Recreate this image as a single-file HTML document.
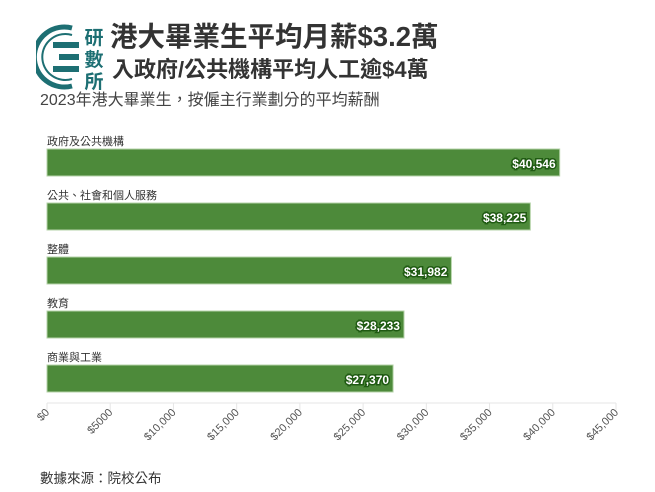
<!DOCTYPE html>
<html><head><meta charset="utf-8"><style>
body{margin:0;width:655px;height:492px;background:#fff;font-family:"Liberation Sans","Noto Sans CJK TC",sans-serif;overflow:hidden;position:relative}
.t{position:absolute;white-space:nowrap;color:#333}
</style></head><body>
<svg style="position:absolute;left:36px;top:22px" width="75" height="70" viewBox="0 0 75 70">
<path d="M36 6 A30 30 0 1 0 36 64" fill="none" stroke="#1d6f73" stroke-width="5"/>
<path d="M36 13 A23 23 0 1 0 36 57" fill="none" stroke="#1d6f73" stroke-width="2"/>
<rect x="17" y="20" width="26" height="6" fill="#1d6f73"/>
<rect x="23" y="32" width="20" height="6" fill="#1d6f73"/>
<rect x="17" y="44" width="26" height="6" fill="#1d6f73"/>
<text x="58" y="22" font-size="19" font-weight="bold" fill="#1d6f73" text-anchor="middle" font-family="Noto Sans CJK TC">研</text>
<text x="58" y="44" font-size="19" font-weight="bold" fill="#1d6f73" text-anchor="middle" font-family="Noto Sans CJK TC">數</text>
<text x="58" y="66" font-size="19" font-weight="bold" fill="#1d6f73" text-anchor="middle" font-family="Noto Sans CJK TC">所</text>
</svg>
<div class="t" style="left:110px;top:20px;font-size:27.5px;font-weight:bold;line-height:34px">港大畢業生平均月薪$3.2萬</div>
<div class="t" style="left:112px;top:56px;font-size:22px;font-weight:bold;line-height:28px">入政府/公共機構平均人工逾$4萬</div>
<div class="t" style="left:40px;top:90px;font-size:16px;color:#444;line-height:22px">2023年港大畢業生，按僱主行業劃分的平均薪酬</div>
<svg id="c" style="position:absolute;left:0;top:0" width="655" height="492"></svg>
<div class="t" style="left:40px;top:467px;font-size:13.5px;color:#333">數據來源：院校公布</div>
<script>
const categories=["政府及公共機構","公共、社會和個人服務","整體","教育","商業與工業"];
const values=[40546,38225,31982,28233,27370];
const ticks=[0,5000,10000,15000,20000,25000,30000,35000,40000,45000];
const tickLabels=["$0","$5000","$10,000","$15,000","$20,000","$25,000","$30,000","$35,000","$40,000","$45,000"];
const svg=document.getElementById('c');const NS='http://www.w3.org/2000/svg';
const x=v=>47+v/45000*569;
function mk(t,a,p){const e=document.createElementNS(NS,t);for(const k in a)e.setAttribute(k,a[k]);(p||svg).appendChild(e);return e;}
const axis=mk('line',{x1:47,x2:616,y1:403,y2:403,stroke:'#e6e6e6'});


ticks.forEach((v,i)=>{
 const tk=mk('line',{x1:x(v),x2:x(v),y1:403,y2:410,stroke:'#e6e6e6'});
 
 
 const tl=mk('text',{x:x(v)+3,y:413,'font-size':11,fill:'#555','text-anchor':'end',transform:`rotate(-45 ${x(v)+3} 413)`});
 
 
 tl.textContent=tickLabels[i];
});
categories.forEach((c,i)=>{
 const y=149+i*54;
 const l=mk('text',{x:47,y:y-4,'font-size':11,fill:'#333'});
 
 
 l.textContent=c;
 const b=mk('rect',{x:47,y:y,width:x(values[i])-47,height:27,fill:'#4d8a3a',stroke:'#b5d3a8','stroke-width':1});
 
 
 const t=mk('text',{x:x(values[i])-4,y:y+19,'font-size':12,'font-weight':'bold',fill:'#fff','text-anchor':'end',stroke:'#1f5a12','stroke-width':3,'paint-order':'stroke'});
 
 
 t.textContent='$'+values[i].toLocaleString('en-US');
});
</script>
</body></html>
